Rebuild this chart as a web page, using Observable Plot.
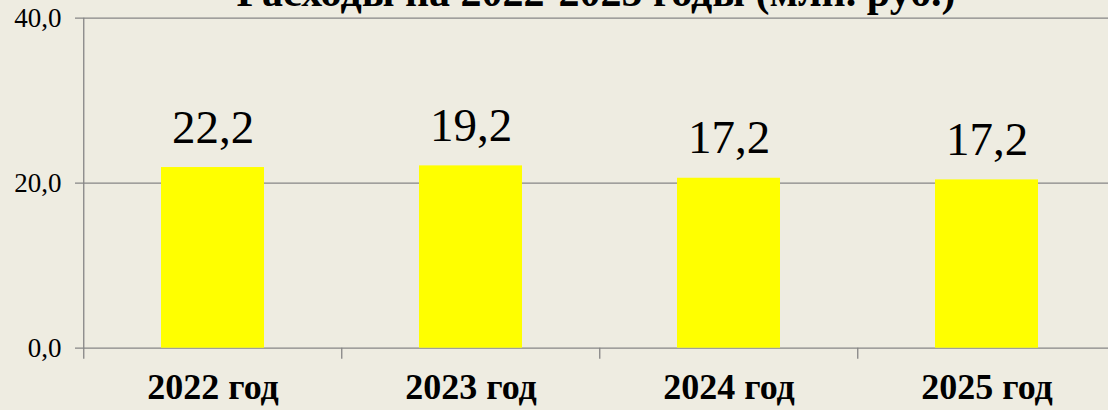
<!DOCTYPE html>
<html>
<head>
<meta charset="utf-8">
<script src="https://cdn.jsdelivr.net/npm/d3@7"></script>
<script src="https://cdn.jsdelivr.net/npm/@observablehq/plot@0.6"></script>
<style>
  html, body { margin: 0; padding: 0; background: #EEECE1; overflow: hidden; }
  #chart svg, #chart svg text { font-family: 'Liberation Serif', 'Times New Roman', Times, serif !important; }
</style>
</head>
<body>
<div id="chart"></div>
<script>
const title = "Расходы на 2022-2025 годы (млн. руб.)";
const categories = ["2022 год", "2023 год", "2024 год", "2025 год"];
const values = [21.9, 22.1, 20.6, 20.4];
const valueLabels = ["22,2", "19,2", "17,2", "17,2"];
const yTicks = [0, 20, 40];

const data = categories.map((c, i) => ({category: c, value: values[i], label: valueLabels[i]}));
const fmt = d => d.toFixed(1).replace(".", ",");

const W = 1108, H = 410;
const left = 83, right = 1117;
const step = (right - left) / categories.length;
const serif = "'Liberation Serif', 'Times New Roman', serif";

const chart = Plot.plot({
  width: W,
  height: H,
  marginLeft: left,
  marginRight: 0,
  marginTop: 17.7,
  marginBottom: 62.3,
  style: {background: "#EEECE1", overflow: "hidden", fontFamily: serif},
  x: {type: "band", domain: categories, range: [left, right], paddingInner: 0.6, paddingOuter: 0.3, axis: null},
  y: {domain: [0, 40], axis: null},
  marks: [
    Plot.ruleY(yTicks, {stroke: "#868686", strokeWidth: 1.3, insetLeft: -8}),
    Plot.barY(data, {x: "category", y: "value", fill: "#FFFF00"}),
    Plot.ruleX([categories[0]], {y1: 40, y2: 0, dx: -step / 2, stroke: "#868686", strokeWidth: 1.3, insetBottom: -11}),
    Plot.ruleX(categories.slice(1), {y1: 0, y2: 0, dx: -step / 2, stroke: "#868686", strokeWidth: 1.3, insetBottom: -11}),
    Plot.text(yTicks, {y: d => d, frameAnchor: "left", dx: -22, textAnchor: "end", text: fmt, fontSize: 27, fontFamily: serif, fill: "#000"}),
    Plot.text(data, {x: "category", y: "value", text: "label", dy: -40, fontSize: 47, fontFamily: serif, fill: "#000"}),
    Plot.text(data, {x: "category", text: "category", frameAnchor: "bottom", dy: 51, fontSize: 36, fontWeight: "bold", fontFamily: serif, fill: "#000"}),
    Plot.text([title], {text: d => d, frameAnchor: "top", dy: -42, fontSize: 42, fontWeight: "bold", fontFamily: serif, fill: "#000"})
  ]
});
document.getElementById("chart").appendChild(chart);
</script>
</body>
</html>
